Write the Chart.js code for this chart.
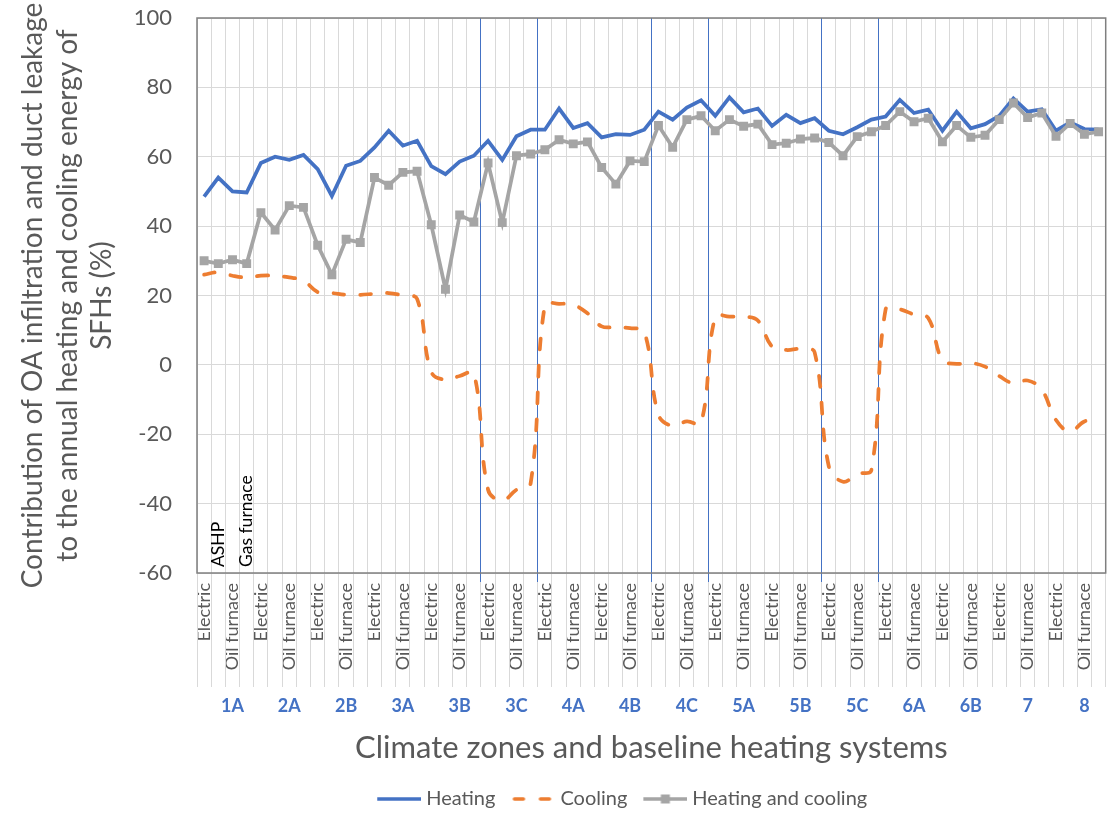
<!DOCTYPE html>
<html>
<head>
<meta charset="utf-8">
<script src="https://cdn.jsdelivr.net/npm/chart.js@4/dist/chart.umd.min.js"></script>
<style>
  html, body { margin: 0; padding: 0; background: #ffffff; }
  #c { display: block; }
</style>
</head>
<body>
<canvas id="c" width="1112" height="813"></canvas>
<script>
// ---------------- data ----------------
const zones = ['1A','2A','2B','3A','3B','3C','4A','4B','4C','5A','5B','5C','6A','6B','7','8'];
const systems = ['Electric','ASHP','Oil furnace','Gas furnace'];
const labeledSystems = ['Electric','Oil furnace'];
const highlightZones = ['3C','4C','5C'];
const seriesNames = ['Heating','Cooling','Heating and cooling'];
const yTitle = ['Contribution of OA infiltration and duct leakage','to the annual heating and cooling energy of','SFHs (%)'];
const xTitle = 'Climate zones and baseline heating systems';
const yMin = -60, yMax = 100, yStep = 20;

const heating = [
  48.5, 54.0, 50.0, 49.7,  58.2, 60.0, 59.1, 60.5,  56.4, 48.7, 57.4, 58.8,  62.7, 67.5, 63.2, 64.6,
  57.3, 55.0, 58.6, 60.3,  64.6, 59.1, 65.9, 67.8,  67.8, 73.9, 68.3, 69.7,  65.6, 66.5, 66.3, 67.8,
  73.0, 70.7, 74.2, 76.3,  71.8, 77.1, 72.8, 73.9,  68.9, 72.1, 69.7, 71.1,  67.5, 66.5, 68.5, 70.7,
  71.6, 76.4, 72.6, 73.6,  67.5, 73.0, 68.2, 69.4,  71.8, 76.8, 73.0, 73.7,  67.5, 69.9, 68.0, 67.8
];
const cooling = [
  26.0, 26.7, 25.7, 25.2,  25.7, 25.7, 25.2, 24.3,  21.0, 20.7, 20.2, 20.2,  20.5, 20.7, 20.0, 19.0,
  -2.0, -4.3, -3.2, -2.4, -36.0,-39.1,-36.0,-34.1,  17.3, 17.6, 17.3, 14.9,  11.1, 10.9, 10.6,  9.6,
 -14.4,-17.6,-16.3,-16.8,  13.9, 13.9, 13.9, 12.8,   5.3,  4.3,  4.6,  3.6, -29.3,-33.7,-31.4,-30.3,
  16.0, 16.0, 14.5, 13.5,   1.4,  0.3,  0.5, -0.5,  -3.2, -5.3, -4.5, -7.2, -15.9,-19.2,-16.3,-15.9
];
const heatingAndCooling = [
  30.0, 29.2, 30.3, 29.2,  43.9, 38.9, 45.9, 45.4,  34.5, 26.0, 36.2, 35.3,  54.0, 51.8, 55.5, 55.8,
  40.4, 21.8, 43.2, 41.2,  58.2, 41.0, 60.3, 60.8,  62.0, 64.9, 63.7, 64.3,  56.9, 52.1, 58.8, 58.6,
  69.0, 62.7, 70.7, 71.8,  67.5, 70.7, 68.8, 69.4,  63.5, 63.9, 65.1, 65.4,  64.1, 60.3, 65.8, 67.2,
  69.0, 73.0, 70.1, 71.1,  64.3, 69.0, 65.6, 66.2,  70.7, 75.5, 71.3, 72.6,  65.9, 69.6, 66.5, 67.2
];

// ---------------- derived ----------------
const categories = zones.flatMap(() => systems.slice());
const zoneTickLabels = zones.flatMap(z => systems.map(s => (s === 'Oil furnace' ? z : '')));

const BLUE = '#4472C4', ORANGE = '#ED7D31', GRAY = '#A5A5A5';
const GRID = '#d9d9d9', TXT = '#595959';
Chart.defaults.font.family = 'Lato, "Open Sans", sans-serif';

// legend samples
function sample(draw) {
  const c = document.createElement('canvas');
  c.width = 55; c.height = 14;
  const g = c.getContext('2d');
  g.translate(11, 7);
  draw(g);
  return c;
}
const legendStyles = [
  sample(g => { g.strokeStyle = BLUE; g.lineWidth = 3.5; g.beginPath(); g.moveTo(0, 0); g.lineTo(44, 0); g.stroke(); }),
  sample(g => { g.strokeStyle = ORANGE; g.lineWidth = 3.5; g.lineCap = 'round'; g.setLineDash([9, 17]); g.beginPath(); g.moveTo(3, 0); g.lineTo(44, 0); g.stroke(); }),
  sample(g => { g.strokeStyle = GRAY; g.lineWidth = 3.5; g.beginPath(); g.moveTo(0, 0); g.lineTo(44, 0); g.stroke(); g.fillStyle = GRAY; g.fillRect(22 - 4.5, -4.5, 9, 9); })
];
const blankStyle = sample(() => {});

const decor = {
  id: 'decor',
  beforeDatasetsDraw(chart) {
    const { ctx, chartArea: a, scales: { x } } = chart;
    const bx = i => Math.round(x.getPixelForValue(i - 0.5) - 0.5) + 0.5;
    ctx.save();
    ctx.lineWidth = 1;
    ctx.strokeStyle = GRID;
    for (let i = 0; i <= categories.length; i++) {
      ctx.beginPath(); ctx.moveTo(bx(i), a.bottom); ctx.lineTo(bx(i), x.bottom); ctx.stroke();
    }
    ctx.strokeStyle = BLUE;
    highlightZones.forEach(z => {
      const k = zones.indexOf(z) * systems.length;
      [k, k + systems.length].forEach(i => {
        ctx.beginPath(); ctx.moveTo(bx(i), a.top); ctx.lineTo(bx(i), a.bottom + 9); ctx.stroke();
      });
    });
    ctx.strokeStyle = '#7f7f7f';
    ctx.lineWidth = 1.5;
    ctx.strokeRect(a.left, a.top, a.right - a.left, a.bottom - a.top);
    ctx.restore();
  },
  afterDatasetsDraw(chart) {
    const { ctx, chartArea: a, scales: { x } } = chart;
    ctx.save();
    ctx.font = '17.5px Lato, "Open Sans", sans-serif';
    ctx.fillStyle = '#000000';
    ctx.textAlign = 'left';
    ctx.textBaseline = 'middle';
    systems.forEach((s, k) => {
      if (labeledSystems.includes(s)) return;
      const px = x.getPixelForValue(k);
      ctx.save();
      ctx.translate(px, a.bottom - 6);
      ctx.rotate(-Math.PI / 2);
      ctx.fillText(s, 0, 0);
      ctx.restore();
    });
    ctx.restore();
  }
};

const noPad = s => { s.paddingLeft = 0; s.paddingRight = 0; s.paddingTop = 0; s.paddingBottom = 0; };

new Chart(document.getElementById('c'), {
  type: 'line',
  data: {
    labels: categories,
    datasets: [
      { label: seriesNames[0], data: heating, borderColor: BLUE, backgroundColor: BLUE,
        borderWidth: 3.75, pointRadius: 0, tension: 0, order: 2 },
      { label: seriesNames[1], data: cooling, borderColor: ORANGE, backgroundColor: ORANGE,
        borderWidth: 3.75, borderDash: [11, 16], borderCapStyle: 'round', pointRadius: 0, tension: 0.4, order: 1 },
      { label: seriesNames[2], data: heatingAndCooling, borderColor: GRAY, backgroundColor: GRAY,
        borderWidth: 3.75, pointStyle: 'rect', pointRadius: 6.3, pointBorderWidth: 0,
        pointBackgroundColor: GRAY, tension: 0, order: 0 }
    ]
  },
  options: {
    responsive: false,
    animation: false,
    devicePixelRatio: 1,
    layout: { padding: { top: 18, right: 0, bottom: -6, left: 0 } },
    scales: {
      x: {
        type: 'category', position: 'bottom', offset: true, weight: 0,
        grid: { offset: true, color: GRID, drawTicks: false, lineWidth: 1 },
        border: { display: false },
        ticks: {
          autoSkip: false, minRotation: 90, maxRotation: 90, padding: 10, color: TXT,
          font: { size: 18 },
          callback: (v, i) => (labeledSystems.includes(categories[i]) ? categories[i] : '')
        },
        afterFit: s => { s.height = 114; noPad(s); }
      },
      xz: {
        type: 'category', position: 'bottom', labels: zoneTickLabels, offset: true, weight: 1,
        grid: { display: false, drawTicks: false },
        border: { display: false },
        ticks: { autoSkip: false, minRotation: 0, maxRotation: 0, padding: 8, color: BLUE,
          font: { size: 18, weight: 'bold' } },
        title: { display: true, text: xTitle, color: TXT, font: { size: 31, lineHeight: 1.2 }, padding: { top: 0, bottom: 12 } },
        afterFit: s => { s.height = 92; noPad(s); }
      },
      y: {
        min: yMin, max: yMax,
        ticks: { stepSize: yStep, padding: 25, color: TXT, font: { size: 22 } },
        grid: { color: GRID, drawTicks: false },
        border: { display: false },
        title: { display: true, text: yTitle, color: TXT, font: { size: 28, lineHeight: 1.23 },
          padding: { top: 16, bottom: 0 } },
        afterFit: s => { s.width = 197; noPad(s); }
      }
    },
    plugins: {
      tooltip: { enabled: false },
      legend: {
        position: 'bottom', align: 'center',
        labels: {
          usePointStyle: true, pointStyleWidth: 45, padding: 10, color: TXT, font: { size: 20 },
          generateLabels: () => [
            { text: '\u00a0'.repeat(12), pointStyle: blankStyle, fillStyle: 'transparent', strokeStyle: 'transparent', lineWidth: 0, hidden: false, fontColor: TXT },
            ...seriesNames.map((n, i) => ({ text: n, pointStyle: legendStyles[i], fillStyle: 'transparent',
              strokeStyle: 'transparent', lineWidth: 0, hidden: false, datasetIndex: i, fontColor: TXT }))
          ]
        }
      }
    }
  },
  plugins: [decor]
});
</script>
</body>
</html>
